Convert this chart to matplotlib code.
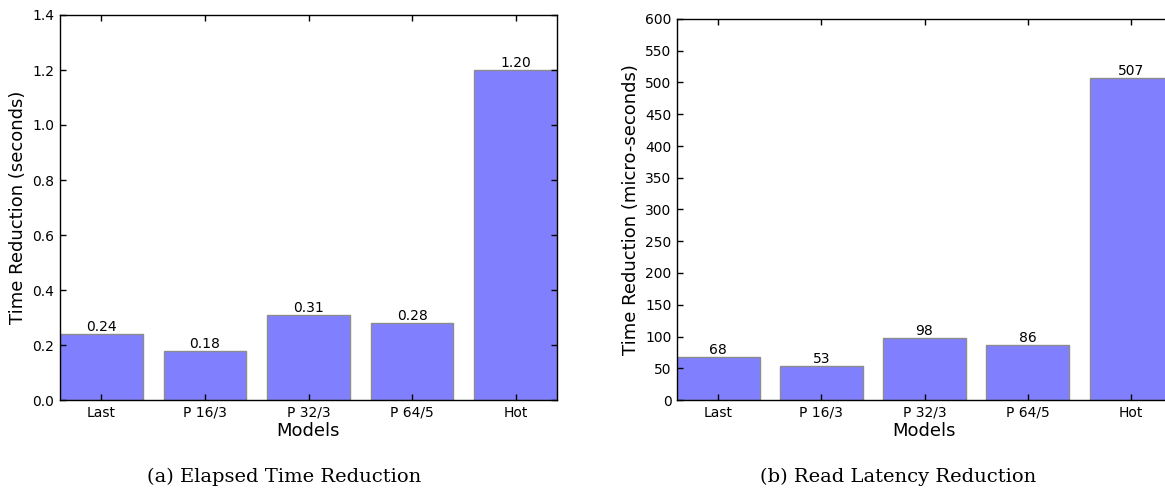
import matplotlib
matplotlib.use("Agg")
import matplotlib.pyplot as plt
import numpy as np

models = ["Last", "P 16/3", "P 32/3", "P 64/5", "Hot"]
elapsed = [0.24, 0.18, 0.31, 0.28, 1.20]
latency = [68, 53, 98, 86, 507]
elapsed_ticks = [0.0, 0.2, 0.4, 0.6, 0.8, 1.0, 1.2, 1.4]
latency_ticks = list(range(0, 601, 50))

W, H = 1165, 490
fig = plt.figure(figsize=(W / 100, H / 100), dpi=100)

def px_axes(x0, y0, x1, y1):
    return fig.add_axes([x0 / W, 1 - y1 / H, (x1 - x0) / W, (y1 - y0) / H])

ax1 = px_axes(60, 15, 557, 400)
ax2 = px_axes(677, 19, 1172, 400)

def draw(ax, vals, ticks, ylabel, fmt):
    x = np.arange(len(models))
    ax.bar(x, vals, width=0.8, color="#8080ff", edgecolor="#8c8c8c", linewidth=1)
    for xi, v in zip(x, vals):
        ax.text(xi, v, fmt.format(v), ha="center", va="bottom", fontsize=10)
    ax.set_xlim(-0.4, len(models) - 0.6)
    ax.set_ylim(ticks[0], ticks[-1])
    ax.set_yticks(ticks)
    ax.set_yticklabels([f"{t:.1f}" if isinstance(t, float) else str(t) for t in ticks])
    ax.set_xticks(x)
    ax.set_xticklabels(models)
    ax.tick_params(direction="in", top=True, right=True, labelsize=10, length=4, width=1, pad=4)
    ax.set_xlabel("Models", fontsize=13, labelpad=2)
    ax.set_ylabel(ylabel, fontsize=13)
    for s in ax.spines.values():
        s.set_linewidth(1)

draw(ax1, elapsed, elapsed_ticks, "Time Reduction (seconds)", "{:.2f}")
draw(ax2, latency, latency_ticks, "Time Reduction (micro-seconds)", "{:d}")

fig.text(284 / W, 1 - 477 / H, "(a) Elapsed Time Reduction", ha="center", va="center",
         fontsize=14, family="DejaVu Serif")
fig.text(898 / W, 1 - 477 / H, "(b) Read Latency Reduction", ha="center", va="center",
         fontsize=14, family="DejaVu Serif")

fig.savefig("out.png", dpi=100)
